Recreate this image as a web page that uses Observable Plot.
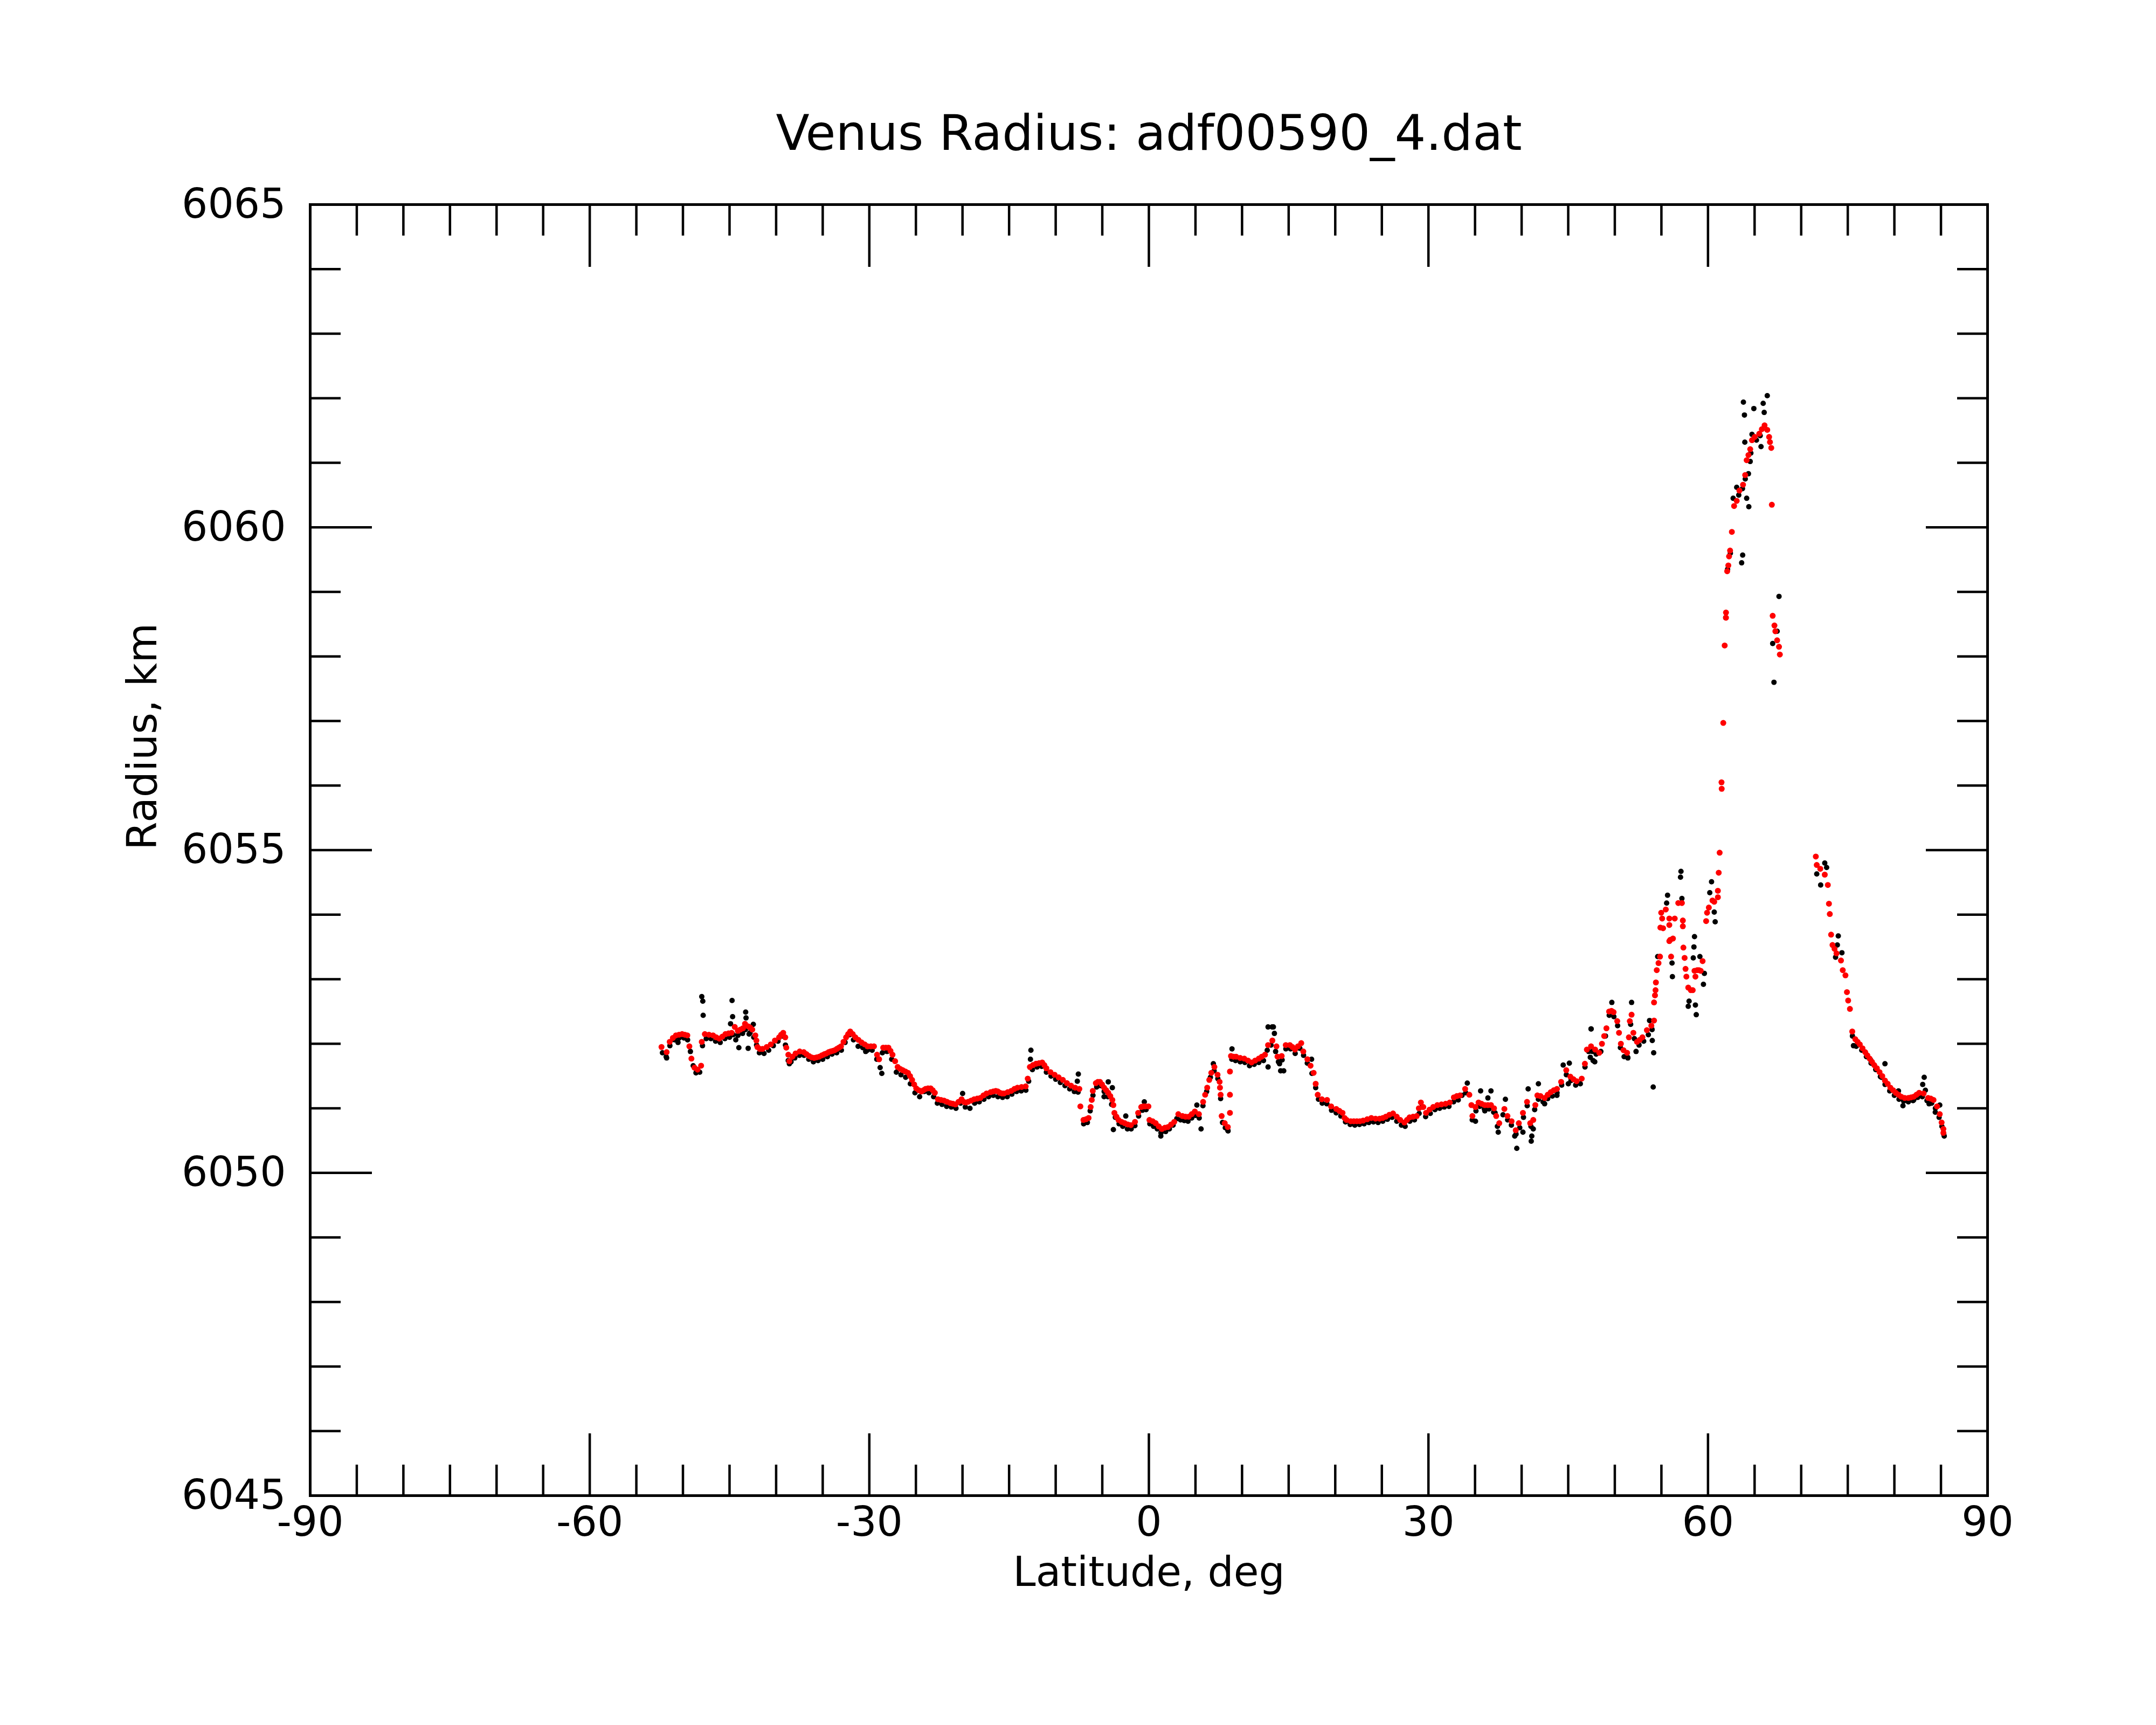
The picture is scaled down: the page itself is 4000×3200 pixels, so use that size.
<!DOCTYPE html>
<html>
<head>
<meta charset="utf-8">
<script src="https://cdn.jsdelivr.net/npm/d3@7"></script>
<script src="https://cdn.jsdelivr.net/npm/@observablehq/plot@0.6"></script>
<style>
  html, body { margin: 0; padding: 0; background: white; }
</style>
</head>
<body>
<div id="chart"></div>
<script>
const titleText = "Venus Radius: adf00590_4.dat";
const xLabel = "Latitude, deg";
const yLabel = "Radius, km";

const xDomain = [-90, 90];
const yDomain = [6045, 6065];
const xMajorTicks = [-90, -60, -30, 0, 30, 60, 90];
const xMinorTicks = [-85,-80,-75,-70,-65,-55,-50,-45,-40,-35,-25,-20,-15,-10,-5,5,10,15,20,25,35,40,45,50,55,65,70,75,80,85];
const xInnerMajor = [-60, -30, 0, 30, 60];
const yMajorTicks = [6045, 6050, 6055, 6060, 6065];
const yMinorTicks = [6046,6047,6048,6049,6051,6052,6053,6054,6056,6057,6058,6059,6061,6062,6063,6064];
const yInnerMajor = [6050, 6055, 6060];

// smoothed radius (red), [latitude, radius]
const redSeries = [
[-52.30,6051.95],[-51.75,6051.87],[-51.42,6052.03],[-51.08,6052.09],[-50.75,6052.13],[-50.42,6052.14],[-50.09,6052.15],[-49.80,6052.14],[-49.53,6052.13],[-49.31,6051.96],[-49.09,6051.77],[-48.76,6051.63],[-48.43,6051.60],[-48.05,6051.66],
[-47.98,6052.03],[-47.65,6052.15],[-47.21,6052.14],[-46.77,6052.13],[-46.43,6052.10],[-46.10,6052.08],[-45.77,6052.11],[-45.44,6052.15],[-45.11,6052.16],[-44.78,6052.17],[-44.44,6052.26],[-44.11,6052.20],[-43.84,6052.22],[-43.56,6052.24],[-43.34,6052.31],[-43.00,6052.27],[-42.78,6052.25],[-42.56,6052.22],[-42.23,6052.13],[-42.12,6052.05],[-42.01,6051.95],[-41.75,6051.92],[-41.46,6051.92],[-41.01,6051.95],[-40.57,6051.99],[-40.13,6052.05],[-39.68,6052.10],[-39.46,6052.14],[-39.24,6052.17],[-39.02,6052.10],[-38.91,6051.94],[-38.69,6051.83],[-38.58,6051.73],[-38.25,6051.80],[-37.91,6051.85],[-37.47,6051.88],[-37.03,6051.87],[-36.75,6051.84],[-36.47,6051.81],[-36.20,6051.79],[-35.92,6051.78],[-35.65,6051.79],[-35.37,6051.80],[-35.10,6051.82],[-34.82,6051.84],[-34.60,6051.85],[-34.37,6051.87],[-34.15,6051.88],[-33.93,6051.89],[-33.71,6051.90],[-33.49,6051.92],[-33.26,6051.94],[-33.04,6051.96],[-32.77,6052.03],[-32.49,6052.10],[-32.27,6052.15],[-32.05,6052.19],[-31.78,6052.15],[-31.50,6052.10],[-31.17,6052.06],[-30.83,6052.02],[-30.50,6051.99],[-30.17,6051.96],[-29.83,6051.96],[-29.50,6051.96],[-29.17,6051.83],[-28.95,6051.76],
[-28.51,6051.94],[-28.23,6051.94],[-27.95,6051.94],[-27.73,6051.89],[-27.51,6051.83],[-27.23,6051.73],[-26.96,6051.64],[-26.68,6051.61],[-26.41,6051.59],[-26.13,6051.57],[-25.85,6051.55],[-25.63,6051.50],[-25.41,6051.44],[-25.19,6051.37],[-24.97,6051.31],[-24.69,6051.28],[-24.41,6051.26],[-24.19,6051.28],[-23.97,6051.30],[-23.70,6051.31],[-23.42,6051.31],[-23.20,6051.28],[-22.97,6051.24],[-22.64,6051.14],[-22.31,6051.13],[-21.98,6051.12],[-21.65,6051.10],[-21.31,6051.08],[-21.03,6051.07],[-20.76,6051.06],[-20.43,6051.10],[-20.10,6051.14],[-19.86,6051.10],[-19.65,6051.09],[-19.41,6051.10],[-19.08,6051.12],[-18.75,6051.14],[-18.42,6051.15],[-18.09,6051.16],[-17.75,6051.20],[-17.42,6051.23],[-16.98,6051.25],[-16.70,6051.26],[-16.43,6051.27],[-16.20,6051.26],[-15.98,6051.24],[-15.76,6051.23],[-15.54,6051.23],[-15.15,6051.25],[-14.77,6051.27],[-14.43,6051.30],[-14.10,6051.32],[-13.66,6051.33],[-13.22,6051.34],
[-13.00,6051.46],[-12.77,6051.64],[-12.44,6051.67],[-12.11,6051.69],[-11.78,6051.70],[-11.45,6051.71],[-11.22,6051.67],[-11.00,6051.62],[-10.56,6051.56],[-10.12,6051.52],[-9.68,6051.48],[-9.23,6051.44],[-8.79,6051.39],[-8.35,6051.35],[-7.91,6051.32],[-7.46,6051.30],
[-7.35,6051.03],[-7.02,6050.82],[-6.75,6050.83],[-6.47,6050.85],[-6.25,6051.02],[-6.13,6051.13],[-6.02,6051.27],[-5.69,6051.39],[-5.47,6051.41],[-5.25,6051.41],[-5.03,6051.37],[-4.81,6051.32],[-4.58,6051.28],[-4.36,6051.24],[-4.14,6051.19],[-3.92,6051.13],[-3.81,6051.05],[-3.70,6050.93],[-3.48,6050.87],[-3.26,6050.82],[-2.93,6050.79],[-2.59,6050.77],[-2.26,6050.75],[-1.93,6050.74],[-1.49,6050.79],[-1.15,6050.93],[-0.82,6051.02],[-0.60,6051.03],[-0.38,6051.03],[-0.05,6051.03],
[0.06,6050.82],[0.40,6050.80],[0.73,6050.77],[1.06,6050.72],[1.39,6050.68],[1.72,6050.70],[2.05,6050.71],[2.39,6050.75],[2.72,6050.79],[3.16,6050.91],[3.60,6050.88],[3.94,6050.87],[4.27,6050.87],[4.60,6050.91],[4.93,6050.95],[5.37,6050.91],[5.82,6051.10],[6.04,6051.21],[6.26,6051.32],[6.48,6051.44],[6.70,6051.55],[7.03,6051.64],[7.37,6051.52],[7.59,6051.41],[7.63,6051.32],[7.70,6051.21],[7.81,6050.88],[8.14,6050.77],[8.47,6050.71],
[8.70,6051.57],[8.70,6051.21],[8.70,6050.93],
[8.81,6051.81],[9.08,6051.80],[9.36,6051.80],[9.80,6051.78],[10.24,6051.77],[10.64,6051.74],[11.02,6051.71],[11.40,6051.74],[11.79,6051.77],[12.12,6051.80],[12.46,6051.83],[12.79,6051.98],[13.25,6052.05],[13.69,6051.96],[13.80,6051.80],[14.25,6051.81],[14.69,6051.98],[15.13,6051.98],[15.40,6051.95],[15.68,6051.91],[16.00,6051.96],[16.35,6052.01],[16.57,6051.88],[17.01,6051.76],[17.35,6051.66],[17.68,6051.55],[17.90,6051.38],[18.12,6051.21],[18.56,6051.14],[19.12,6051.13],[19.56,6051.03],[20.11,6050.99],[20.45,6050.96],[20.78,6050.93],[21.00,6050.85],[21.22,6050.82],[21.66,6050.80],[21.99,6050.80],[22.32,6050.80],[22.65,6050.80],[22.99,6050.81],[23.43,6050.83],[23.87,6050.85],[24.32,6050.84],[24.76,6050.84],[25.10,6050.85],[25.42,6050.87],[25.81,6050.90],[26.20,6050.92],[26.60,6050.87],[26.97,6050.82],[27.42,6050.78],[27.70,6050.82],[27.97,6050.86],[28.35,6050.87],[28.74,6050.88],[28.97,6051.00],[29.19,6051.09],[29.45,6051.02],[29.74,6050.93],[30.12,6050.98],[30.51,6051.02],[30.96,6051.05],[31.40,6051.06],[31.84,6051.07],[32.29,6051.09],[32.73,6051.17],[33.05,6051.19],[33.39,6051.20],[33.94,6051.30],[34.39,6051.21],[34.61,6051.05],[34.72,6050.88],[35.05,6051.02],[35.38,6051.09],[35.70,6051.07],[36.05,6051.05],[36.38,6051.05],[36.71,6051.05],[37.04,6051.00],[37.27,6050.88],[37.60,6050.77],[38.15,6050.99],[38.48,6050.88],[38.92,6050.80],[39.37,6050.66],[39.70,6050.77],[40.14,6050.93],[40.58,6051.10],[40.92,6050.77],[41.25,6050.82],[41.47,6051.05],[41.69,6051.20],[42.02,6051.19],[42.47,6051.16],[42.80,6051.21],[43.13,6051.25],[43.46,6051.28],[43.79,6051.30],[44.24,6051.41],[44.79,6051.59],[45.23,6051.49],[45.56,6051.45],[45.90,6051.42],[46.45,6051.46],[46.79,6051.69],[47.00,6051.91],[47.45,6051.96],[47.89,6051.91],[48.33,6051.86],[48.62,6052.00],[48.86,6052.12],[49.10,6052.24],[49.39,6052.50],[49.64,6052.51],[49.87,6052.49],[50.26,6052.35],[50.45,6052.17],[50.65,6052.00],[50.93,6051.90],[51.32,6051.86],[51.51,6052.10],[51.61,6052.35],[51.80,6052.45],[51.99,6052.17],[52.38,6052.03],[52.67,6052.06],[52.96,6052.10],[53.44,6052.21],[53.92,6052.28],[54.21,6052.36],
[54.21,6052.64],[54.31,6052.75],[54.37,6052.83],[54.41,6052.95],[54.50,6053.14],[54.69,6053.25],[54.85,6053.35],[54.89,6053.80],[54.98,6054.03],[55.08,6053.94],[55.18,6053.79],[55.47,6054.08],[55.85,6053.94],[55.85,6053.84],[55.85,6053.59],[55.95,6053.61],[56.04,6053.35],[56.24,6053.63],[56.43,6053.94],[56.81,6054.18],[57.20,6054.18],[57.30,6053.91],[57.30,6053.82],[57.36,6053.49],[57.49,6053.33],[57.59,6053.16],[57.68,6053.04],[57.88,6052.87],[58.16,6052.83],[58.36,6052.83],[58.55,6053.13],[58.65,6053.04],[58.84,6053.14],[59.03,6053.14],[59.22,6053.13],[59.42,6053.28],[59.80,6053.90],[59.90,6054.03],[60.09,6054.11],[60.48,6054.22],[60.67,6054.20],[61.06,6054.27],[61.06,6054.37],[61.15,6054.65],[61.25,6054.96],
[61.45,6056.05],[61.47,6055.95],[61.64,6056.97],[61.79,6058.17],[61.93,6058.68],[61.93,6058.60],[62.06,6059.32],[62.18,6059.41],[62.26,6059.55],[62.37,6059.64],[62.56,6059.93],[62.80,6060.33],[63.08,6060.41],[63.37,6060.57],[63.76,6060.66],[63.99,6060.81],[64.15,6061.04],[64.34,6061.12],[64.53,6061.21],[64.72,6061.35],[65.01,6061.40],[65.50,6061.45],[65.78,6061.52],[66.07,6061.58],[66.36,6061.51],[66.56,6061.40],[66.65,6061.32],[66.79,6061.23],[66.85,6060.35],[66.94,6058.63],[67.13,6058.48],[67.23,6058.39],[67.42,6058.25],[67.62,6058.15],[67.71,6058.03],
[71.57,6054.90],[71.67,6054.77],[72.05,6054.71],[72.53,6054.62],[72.86,6054.46],[72.98,6054.17],[73.07,6054.01],[73.21,6053.69],[73.36,6053.53],[73.58,6053.47],[73.79,6053.40],[74.27,6053.29],[74.46,6053.14],[74.75,6053.06],[74.91,6052.80],[75.04,6052.67],[75.23,6052.54],[75.48,6052.19],[75.81,6052.07],[76.05,6052.03],[76.29,6051.99],[76.58,6051.93],[76.87,6051.87],[77.10,6051.82],[77.35,6051.77],[77.60,6051.72],[77.84,6051.67],[78.12,6051.62],[78.41,6051.56],[78.70,6051.50],[78.99,6051.43],[79.28,6051.38],[79.57,6051.32],[79.86,6051.28],[80.15,6051.24],[80.44,6051.21],[80.73,6051.18],[81.11,6051.16],[81.50,6051.16],[81.79,6051.17],[82.08,6051.18],[82.37,6051.21],[82.66,6051.24],[83.14,6051.23],[83.62,6051.16],[83.91,6051.15],[84.20,6051.13],[84.58,6051.03],[84.87,6050.91],[85.07,6050.78],[85.26,6050.68],[85.26,6050.62]
];

// raw radius (black), [latitude, radius]
const blackSeries = [
[-52.2,6051.86],[-51.8,6051.80],[-51.75,6051.78],[-51.4,6051.97],[-50.9,6052.06],[-50.53,6052.02],[-50.4,6052.09],[-49.9,6052.09],[-49.5,6052.06],[-49.2,6051.88],[-48.9,6051.66],[-48.6,6051.55],[-48.2,6051.56],
[-47.98,6052.73],[-47.87,6052.66],[-47.83,6052.44],[-44.73,6052.67],[-44.67,6052.42],[-43.27,6052.49],[-43.23,6052.40],[-42.45,6052.30],[-44.89,6052.31],[-44.0,6051.94],[-43.0,6051.93],[-42.9,6052.15],[-44.33,6052.06],
[-47.9,6051.97],[-47.5,6052.08],[-47.0,6052.08],[-46.5,6052.04],[-46.0,6052.02],[-45.5,6052.08],[-45.0,6052.10],[-44.6,6052.14],[-44.1,6052.13],[-43.6,6052.16],[-43.3,6052.22],[-42.8,6052.17],[-42.4,6052.10],[-42.1,6051.98],[-41.8,6051.86],[-41.3,6051.85],[-40.8,6051.90],[-40.3,6051.97],[-39.8,6052.04],[-39.3,6052.12],[-39.0,6051.98],[-38.7,6051.74],[-38.58,6051.69],[-38.4,6051.72],[-38.0,6051.78],[-37.5,6051.82],[-37.0,6051.82],[-36.5,6051.76],[-36.0,6051.72],[-35.5,6051.74],[-35.0,6051.76],[-34.5,6051.80],[-34.0,6051.84],[-33.5,6051.86],[-33.0,6051.90],[-32.6,6052.02],[-32.1,6052.14],[-31.7,6052.06],[-31.2,6051.96],[-30.7,6051.94],[-30.39,6051.88],[-30.2,6051.90],[-29.7,6051.90],[-29.2,6051.76],[-28.84,6051.63],[-28.66,6051.54],[-28.6,6051.86],[-28.1,6051.88],[-27.6,6051.76],[-27.1,6051.56],[-26.6,6051.52],[-26.1,6051.48],[-25.6,6051.38],[-25.1,6051.24],[-24.6,6051.18],[-24.1,6051.26],[-23.6,6051.24],[-23.1,6051.18],[-22.7,6051.08],[-22.2,6051.06],[-21.7,6051.03],[-21.2,6051.02],[-20.7,6051.00],[-20.2,6051.08],[-19.99,6051.23],[-19.7,6051.02],[-19.2,6051.00],[-18.7,6051.08],[-18.2,6051.10],[-17.7,6051.14],[-17.2,6051.18],[-16.7,6051.20],[-16.2,6051.18],[-15.7,6051.17],[-15.2,6051.18],[-14.7,6051.22],[-14.2,6051.26],[-13.7,6051.27],[-13.2,6051.28],
[-12.66,6051.90],[-12.71,6051.76],[-12.9,6051.42],[-12.5,6051.60],[-12.0,6051.64],[-11.5,6051.65],[-11.0,6051.56],[-10.5,6051.50],[-10.0,6051.45],[-9.5,6051.40],[-9.0,6051.35],[-8.5,6051.30],[-8.0,6051.26],[-7.6,6051.25],[-7.57,6051.53],[-7.68,6051.42],
[-7.0,6050.76],[-6.6,6050.78],[-6.3,6050.96],[-6.0,6051.20],[-5.6,6051.33],[-5.2,6051.35],[-4.8,6051.26],[-4.81,6051.18],[-4.36,6051.41],[-3.92,6051.32],[-4.4,6051.18],[-4.0,6051.06],[-3.81,6050.67],[-3.6,6050.86],[-3.2,6050.76],[-2.8,6050.72],[-2.48,6050.88],[-2.3,6050.68],[-1.9,6050.68],[-1.5,6050.73],[-1.1,6050.88],[-0.7,6050.97],[-0.49,6051.10],[-0.3,6050.98],
[0.1,6050.76],[0.5,6050.72],[0.9,6050.68],[1.28,6050.57],[1.3,6050.62],[1.8,6050.64],[2.2,6050.68],[2.6,6050.74],[3.0,6050.84],[3.4,6050.82],[3.8,6050.81],[4.2,6050.80],[4.6,6050.85],[5.0,6050.89],[5.15,6051.05],[5.4,6050.85],[5.60,6050.68],[5.8,6051.04],[6.2,6051.26],[6.6,6051.48],[6.92,6051.69],[7.0,6051.58],[7.4,6051.46],[7.7,6051.15],[7.9,6050.78],[8.2,6050.70],[8.47,6050.66],[8.5,6050.65],
[8.92,6051.92],[8.9,6051.76],[9.3,6051.74],[9.8,6051.72],[10.3,6051.71],[10.8,6051.66],[11.3,6051.68],[11.8,6051.71],[12.3,6051.74],[12.7,6051.90],[12.79,6052.26],[13.23,6052.26],[13.36,6052.26],[13.47,6052.16],[13.1,6051.98],[12.79,6051.64],[13.6,6051.88],[13.9,6051.72],[14.02,6051.69],[14.14,6051.58],[14.47,6051.58],[14.3,6051.75],[14.7,6051.92],[15.2,6051.92],[15.7,6051.85],[16.2,6051.93],[16.6,6051.82],[17.0,6051.70],[17.46,6051.76],[17.5,6051.54],[17.9,6051.32],[18.2,6051.14],[18.6,6051.08],[19.1,6051.07],[19.6,6050.97],[20.1,6050.93],[20.6,6050.88],[21.1,6050.79],[21.6,6050.75],[22.1,6050.74],[22.6,6050.75],[23.1,6050.76],[23.6,6050.78],[24.1,6050.79],[24.6,6050.78],[25.1,6050.80],[25.6,6050.83],[26.1,6050.86],[26.6,6050.80],[27.1,6050.74],[27.5,6050.72],[28.0,6050.80],[28.5,6050.82],[29.0,6050.92],[29.3,6051.02],[29.7,6050.87],[30.2,6050.92],[30.7,6050.98],[31.2,6051.00],[31.7,6051.02],[32.2,6051.03],[32.7,6051.10],[33.2,6051.13],[33.6,6051.20],[34.0,6051.24],[34.17,6051.39],
[34.7,6050.82],[35.05,6050.80],[35.1,6050.96],[35.5,6051.03],[35.6,6051.27],[36.0,6050.99],[36.05,6050.96],[36.38,6051.16],[36.71,6051.27],[36.5,6050.99],[37.0,6050.94],[37.15,6050.93],[37.4,6050.72],[37.49,6050.63],[38.0,6050.90],[38.26,6051.14],[38.5,6050.82],[38.9,6050.74],[39.26,6050.57],[39.48,6050.38],[39.4,6050.60],[39.8,6050.70],[40.14,6050.63],[40.2,6050.86],[40.6,6051.04],[40.70,6051.30],[41.0,6050.72],[41.03,6050.49],[41.09,6050.57],[41.25,6050.68],[41.4,6050.98],[41.80,6051.38],[41.8,6051.14],[42.3,6051.10],[42.47,6051.07],[42.8,6051.15],[43.3,6051.19],[43.79,6051.20],[43.8,6051.24],[44.3,6051.36],[44.46,6051.67],[44.8,6051.52],[45.12,6051.70],[45.01,6051.38],[45.3,6051.43],[45.8,6051.36],[46.3,6051.38],[46.8,6051.64],[47.2,6051.88],[47.37,6051.79],[47.45,6052.23],[47.46,6052.23],[47.67,6051.74],[47.85,6051.72],[47.6,6051.88],[48.0,6051.84],[48.5,6051.88],[49.0,6052.12],[49.4,6052.44],[49.68,6052.64],[49.9,6052.42],[50.3,6052.28],[50.6,6051.94],[51.0,6051.80],[51.38,6051.79],[51.4,6051.78],[51.80,6052.64],[51.7,6052.30],[52.1,6052.08],[52.28,6051.88],[52.6,6051.98],[53.1,6052.04],[53.6,6052.14],[53.73,6052.36],[54.0,6052.22],[54.02,6052.05],[54.17,6051.86],[54.12,6051.33],
[54.60,6053.35],[55.66,6054.30],[55.56,6054.18],[57.10,6054.67],[57.05,6054.58],[57.20,6054.25],[56.14,6053.25],[56.18,6053.04],[58.55,6053.66],[58.49,6053.50],[58.42,6053.33],[59.13,6053.35],[59.61,6053.09],[59.51,6052.92],[57.97,6052.66],[57.88,6052.58],[58.65,6052.60],[58.74,6052.45],[60.38,6054.51],[60.19,6054.34],[60.67,6054.04],[60.77,6053.89],
[63.80,6061.94],[63.91,6061.74],[64.92,6061.84],[66.36,6062.04],[65.92,6061.92],[66.03,6061.78],[64.72,6061.44],[63.95,6061.32],[65.69,6061.25],[64.53,6061.02],[64.34,6060.83],[63.08,6060.62],[62.70,6060.45],[64.15,6060.45],[64.38,6060.32],[63.72,6059.57],[63.61,6059.45],[67.62,6058.93],[66.94,6058.20],[67.08,6057.60],[67.42,6058.39],[63.3,6060.50],[63.7,6060.60],[64.0,6060.75],[64.6,6061.15],[65.2,6061.35],[65.6,6061.42],[62.4,6059.60],[62.1,6059.35],[61.9,6058.60],
[72.53,6054.80],[72.73,6054.73],[71.67,6054.63],[72.09,6054.46],[73.98,6053.67],[73.88,6053.53],[74.37,6053.41],[73.69,6053.34],[75.61,6051.97],
[75.5,6052.12],[75.91,6051.96],[76.0,6051.98],[76.5,6051.90],[77.0,6051.80],[77.45,6051.75],[77.5,6051.70],[78.0,6051.60],[78.61,6051.48],[78.99,6051.69],[78.5,6051.49],[79.0,6051.37],[79.5,6051.27],[80.0,6051.20],[80.44,6051.27],[80.5,6051.14],[80.92,6051.04],[81.0,6051.11],[81.5,6051.10],[82.0,6051.12],[82.08,6051.13],[82.5,6051.17],[83.0,6051.18],[83.20,6051.48],[83.04,6051.37],[83.33,6051.28],[83.5,6051.12],[83.72,6051.07],[84.0,6051.08],[84.4,6051.00],[84.39,6050.94],[84.87,6051.05],[84.8,6050.86],[85.1,6050.72],[85.3,6050.60],[85.35,6050.57]
];

const red = redSeries.map(([lat, radius]) => ({lat, radius}));
const black = blackSeries.map(([lat, radius]) => ({lat, radius}));

const tickFmt = d => `${d}`;
const minorLen = 57, majorLen = 115, tickW = 4.5;

const chart = Plot.plot({
  width: 4000,
  height: 3200,
  marginLeft: 575,
  marginRight: 313,
  marginTop: 379,
  marginBottom: 426,
  x: {domain: xDomain, axis: null},
  y: {domain: yDomain, axis: null},
  style: {fontFamily: "'DejaVu Sans', sans-serif", fontSize: "76px", background: "white", color: "black", overflow: "visible"},
  marks: [
    Plot.dot(black, {x: "lat", y: "radius", r: 5, fill: "black"}),
    Plot.dot(red, {x: "lat", y: "radius", r: 5.5, fill: "#ff0000"}),
    // inward ticks
    Plot.axisX(xMinorTicks, {anchor: "bottom", tickSize: -minorLen, strokeWidth: tickW, fill: "none", label: null}),
    Plot.axisX(xMinorTicks, {anchor: "top", tickSize: -minorLen, strokeWidth: tickW, fill: "none", label: null}),
    Plot.axisX(xInnerMajor, {anchor: "bottom", tickSize: -majorLen, strokeWidth: tickW, fill: "none", label: null}),
    Plot.axisX(xInnerMajor, {anchor: "top", tickSize: -majorLen, strokeWidth: tickW, fill: "none", label: null}),
    Plot.axisY(yMinorTicks, {anchor: "left", tickSize: -minorLen, strokeWidth: tickW, fill: "none", label: null}),
    Plot.axisY(yMinorTicks, {anchor: "right", tickSize: -minorLen, strokeWidth: tickW, fill: "none", label: null}),
    Plot.axisY(yInnerMajor, {anchor: "left", tickSize: -majorLen, strokeWidth: tickW, fill: "none", label: null}),
    Plot.axisY(yInnerMajor, {anchor: "right", tickSize: -majorLen, strokeWidth: tickW, fill: "none", label: null}),
    // tick labels
    Plot.axisX(xMajorTicks, {anchor: "bottom", tickSize: 0, tickPadding: 21, tickFormat: tickFmt, label: null, fontSize: 76}),
    Plot.axisY(yMajorTicks, {anchor: "left", tickSize: 0, tickPadding: 45, tickFormat: tickFmt, label: null, fontSize: 76}),
    Plot.frame({stroke: "black", strokeWidth: 5}),
    Plot.text([titleText], {frameAnchor: "top", dy: -131, fontSize: 91, lineAnchor: "middle"}),
    Plot.text([xLabel], {frameAnchor: "bottom", dy: 143, fontSize: 76, lineAnchor: "middle"}),
    Plot.text([yLabel], {frameAnchor: "left", dx: -310, rotate: -90, fontSize: 76, lineAnchor: "middle"})
  ]
});
document.getElementById("chart").appendChild(chart);
</script>
</body>
</html>
